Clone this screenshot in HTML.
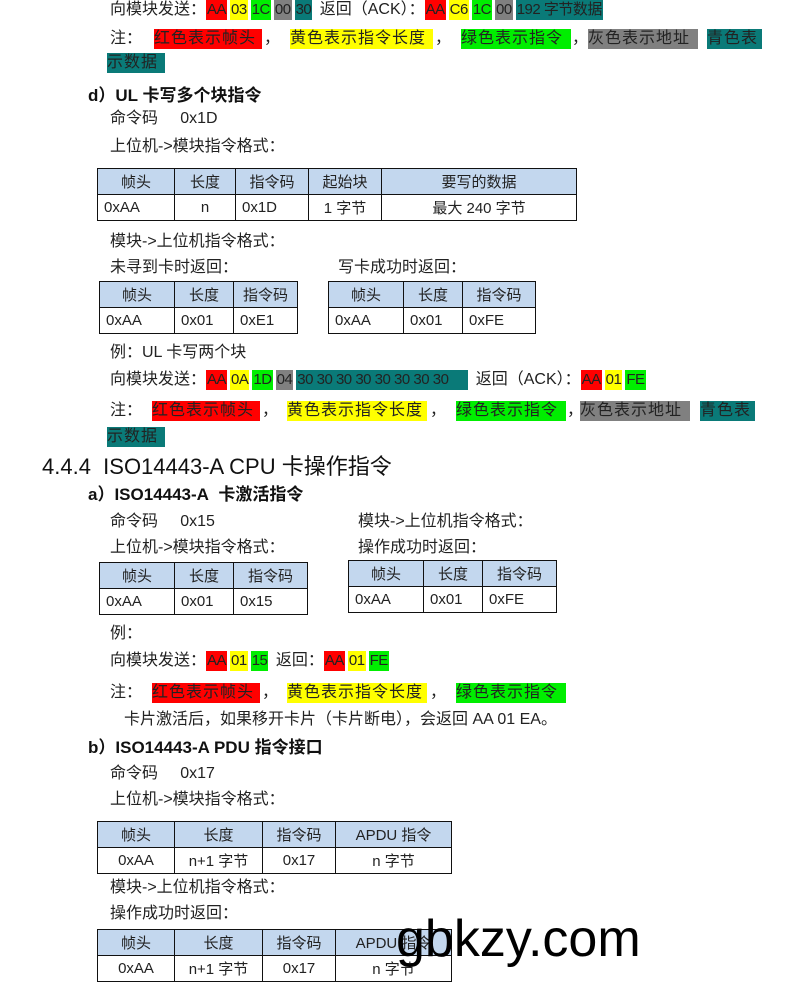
<!DOCTYPE html>
<html><head><meta charset="utf-8"><style>
body{margin:0;width:790px;height:985px;background:#fff;position:relative;overflow:hidden;font-family:"Liberation Sans","Noto Sans CJK SC",sans-serif;color:#222;}
.t{position:absolute;font-size:16px;line-height:20px;white-space:nowrap;}
.b{font-weight:bold;font-size:17px;color:#111}
.r{background:#f00}.y{background:#ff0}.g{background:#0e0}.k{background:#808080}.c{background:#0a7a78}
.h span{display:inline-block;padding:0 1px;margin-right:3px;font-size:15px;letter-spacing:-0.5px}
table{position:absolute;border-collapse:collapse;font-size:15px;}
td{border:1.5px solid #111;height:25px;padding:0 6px;white-space:nowrap;}
tr:first-child td{background:#c3d7ee;text-align:center}
</style></head><body>
<div class="t h" style="left:110px;top:0px">向模块发送：<span class="r">AA</span><span class="y">03</span><span class="g">1C</span><span class="k">00</span><span class="c">30</span> 返回（ACK）：<span class="r">AA</span><span class="y">C6</span><span class="g">1C</span><span class="k">00</span><span class="c">192 字节数据</span></div>
<div class="t" style="left:110px;top:29px">注：</div>
<div class="t r" style="left:154px;top:29px;width:108px;letter-spacing:1px">红色表示帧头</div><div class="t" style="left:264px;top:29px">，</div>
<div class="t y" style="left:290px;top:29px;width:143px;letter-spacing:1px">黄色表示指令长度</div><div class="t" style="left:435px;top:29px">，</div>
<div class="t g" style="left:461px;top:29px;width:110px;letter-spacing:1px">绿色表示指令</div><div class="t" style="left:572px;top:29px">，</div>
<div class="t k" style="left:588px;top:29px;width:110px;letter-spacing:1px">灰色表示地址</div>
<div class="t c" style="left:707px;top:29px;width:55px;letter-spacing:1px">青色表</div>
<div class="t c" style="left:107px;top:53px;width:58px;letter-spacing:1px">示数据</div>
<div class="t b" style="left:88px;top:86px">d）UL 卡写多个块指令</div>
<div class="t" style="left:110px;top:109px">命令码&nbsp;&nbsp;&nbsp;&nbsp; 0x1D</div>
<div class="t" style="left:110px;top:137px">上位机-&gt;模块指令格式：</div>
<table style="left:97px;top:168px;width:480px"><tr><td style="width:64px">帧头</td><td style="width:48px">长度</td><td style="width:60px">指令码</td><td style="width:60px">起始块</td><td>要写的数据</td></tr>
<tr><td>0xAA</td><td style="text-align:center">n</td><td>0x1D</td><td style="text-align:center">1 字节</td><td style="text-align:center">最大 240 字节</td></tr></table>
<div class="t" style="left:110px;top:232px">模块-&gt;上位机指令格式：</div>
<div class="t" style="left:110px;top:258px">未寻到卡时返回：</div>
<div class="t" style="left:338px;top:258px">写卡成功时返回：</div>
<table style="left:99px;top:281px;width:199px"><tr><td style="width:62px">帧头</td><td style="width:46px">长度</td><td>指令码</td></tr><tr><td>0xAA</td><td>0x01</td><td>0xE1</td></tr></table>
<table style="left:328px;top:281px;width:208px"><tr><td style="width:62px">帧头</td><td style="width:46px">长度</td><td>指令码</td></tr><tr><td>0xAA</td><td>0x01</td><td>0xFE</td></tr></table>
<div class="t" style="left:110px;top:343px">例：UL 卡写两个块</div>
<div class="t h" style="left:110px;top:370px">向模块发送：<span class="r">AA</span><span class="y">0A</span><span class="g">1D</span><span class="k">04</span><span class="c" style="width:170px">30 30 30 30 30 30 30 30</span> 返回（ACK）：<span class="r">AA</span><span class="y">01</span><span class="g">FE</span></div>
<div class="t" style="left:110px;top:401px">注：</div>
<div class="t r" style="left:152px;top:401px;width:108px;letter-spacing:1px">红色表示帧头</div><div class="t" style="left:262px;top:401px">，</div>
<div class="t y" style="left:287px;top:401px;width:140px;letter-spacing:1px">黄色表示指令长度</div><div class="t" style="left:430px;top:401px">，</div>
<div class="t g" style="left:456px;top:401px;width:110px;letter-spacing:1px">绿色表示指令</div><div class="t" style="left:567px;top:401px">，</div>
<div class="t k" style="left:580px;top:401px;width:110px;letter-spacing:1px">灰色表示地址</div>
<div class="t c" style="left:700px;top:401px;width:55px;letter-spacing:1px">青色表</div>
<div class="t c" style="left:107px;top:427px;width:58px;letter-spacing:1px">示数据</div>
<div class="t" style="left:42px;top:454px;font-size:22px;line-height:26px;color:#111">4.4.4&nbsp;&nbsp;ISO14443-A CPU 卡操作指令</div>
<div class="t b" style="left:88px;top:485px">a）ISO14443-A&nbsp; 卡激活指令</div>
<div class="t" style="left:110px;top:512px">命令码&nbsp;&nbsp;&nbsp;&nbsp; 0x15</div>
<div class="t" style="left:358px;top:512px">模块-&gt;上位机指令格式：</div>
<div class="t" style="left:110px;top:538px">上位机-&gt;模块指令格式：</div>
<div class="t" style="left:358px;top:538px">操作成功时返回：</div>
<table style="left:99px;top:562px;width:209px"><tr><td style="width:62px">帧头</td><td style="width:46px">长度</td><td>指令码</td></tr><tr><td>0xAA</td><td>0x01</td><td>0x15</td></tr></table>
<table style="left:348px;top:560px;width:209px"><tr><td style="width:62px">帧头</td><td style="width:46px">长度</td><td>指令码</td></tr><tr><td>0xAA</td><td>0x01</td><td>0xFE</td></tr></table>
<div class="t" style="left:110px;top:624px">例：</div>
<div class="t h" style="left:110px;top:651px">向模块发送：<span class="r">AA</span><span class="y">01</span><span class="g">15</span> 返回：<span class="r">AA</span><span class="y">01</span><span class="g">FE</span></div>
<div class="t" style="left:110px;top:683px">注：</div>
<div class="t r" style="left:152px;top:683px;width:108px;letter-spacing:1px">红色表示帧头</div><div class="t" style="left:262px;top:683px">，</div>
<div class="t y" style="left:287px;top:683px;width:140px;letter-spacing:1px">黄色表示指令长度</div><div class="t" style="left:430px;top:683px">，</div>
<div class="t g" style="left:456px;top:683px;width:110px;letter-spacing:1px">绿色表示指令</div>
<div class="t" style="left:124px;top:710px">卡片激活后，如果移开卡片（卡片断电），会返回 AA 01 EA。</div>
<div class="t b" style="left:88px;top:738px">b）ISO14443-A PDU 指令接口</div>
<div class="t" style="left:110px;top:764px">命令码&nbsp;&nbsp;&nbsp;&nbsp; 0x17</div>
<div class="t" style="left:110px;top:790px">上位机-&gt;模块指令格式：</div>
<table style="left:97px;top:821px;width:355px;text-align:center"><tr><td style="width:64px">帧头</td><td style="width:75px">长度</td><td style="width:60px">指令码</td><td>APDU 指令</td></tr><tr><td>0xAA</td><td>n+1 字节</td><td>0x17</td><td>n 字节</td></tr></table>
<div class="t" style="left:110px;top:878px">模块-&gt;上位机指令格式：</div>
<div class="t" style="left:110px;top:904px">操作成功时返回：</div>
<table style="left:97px;top:929px;width:355px;text-align:center"><tr><td style="width:64px">帧头</td><td style="width:75px">长度</td><td style="width:60px">指令码</td><td>APDU 指令</td></tr><tr><td>0xAA</td><td>n+1 字节</td><td>0x17</td><td>n 字节</td></tr></table>
<div class="t" style="left:396px;top:908px;font-size:52px;line-height:62px;color:#000">gbkzy.com</div>
</body></html>
